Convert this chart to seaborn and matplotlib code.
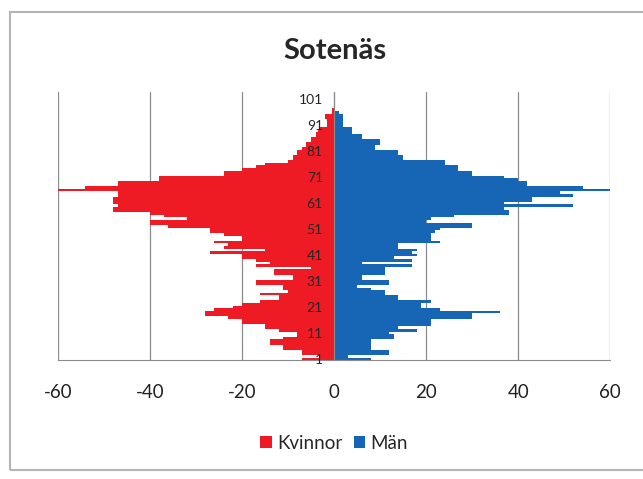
import numpy as np
import pandas as pd
import matplotlib.pyplot as plt
import seaborn as sns
from matplotlib.patches import Rectangle

# ages 1..101
ages = list(range(1, 102))
kvinnor = [7, 3, 7, 7, 11, 11, 14, 14, 11, 8,
           8, 12, 15, 15, 20, 20, 23, 28, 28, 26,
           22, 20, 16, 12, 12, 16, 10, 11, 11, 17,
           17, 9, 9, 13, 13, 5, 17, 14, 17, 20,
           20, 27, 15, 24, 23, 26, 20, 20, 24, 27,
           27, 36, 40, 40, 32, 37, 40, 48, 48, 47,
           48, 48, 48, 47, 47, 60, 54, 47, 47, 38,
           38, 24, 24, 20, 17, 15, 10, 9, 9, 8,
           8, 7, 6, 6, 5, 5, 4, 4, 3.5, 3,
           1.5, 1.5, 1.5, 2, 2, 0.5, 0.5, 0, 0, 0, 0]
man = [8, 3, 12, 12, 8, 8, 8, 8, 13, 13,
       12, 18, 14, 21, 21, 21, 30, 30, 36, 23,
       19, 19, 21, 14, 14, 11, 11, 8, 5, 12,
       12, 6, 6, 11, 11, 11, 17, 6, 17, 13,
       18, 17, 18, 14, 14, 23, 21, 21, 21, 22,
       23, 30, 30, 20, 21, 26, 38, 38, 37, 52,
       37, 43, 43, 52, 49, 60, 54, 42, 42, 40,
       37, 30, 30, 27, 27, 24, 24, 15, 15, 14,
       14, 9, 9, 10, 10, 6, 6, 4, 4, 4,
       2, 2, 2, 2, 2, 1, 0, 0, 0, 0, 0]
xticks = [-60, -40, -20, 0, 20, 40, 60]
yticks = list(range(1, 102, 10))

df = pd.DataFrame({
    "age": ages * 2,
    "value": [-v for v in kvinnor] + man,
    "kon": ["Kvinnor"] * len(ages) + ["Män"] * len(ages),
})

sns.set_style("white")
plt.rcParams["font.family"] = ["Lato", "DejaVu Sans"]

fig = plt.figure(figsize=(6.43, 4.79), dpi=100)
ax = fig.add_axes([0.090, 0.248, 0.859, 0.560])

for x in xticks:
    ax.axvline(x, color="#8c8c8c", lw=0.9, zorder=0)

sns.barplot(data=df, x="value", y="age", hue="kon", orient="h", native_scale=True,
            dodge=False, width=1.0, saturation=1,
            palette={"Kvinnor": "#ee1a24", "Män": "#1766b5"},
            linewidth=0, ax=ax)

ax.set_axisbelow(False)
ax.set_xlim(-60, 60)
ax.set_ylim(0.5, 103.8)
ax.set_xticks(xticks)
ax.set_xticklabels([str(t) for t in xticks], fontsize=13.5, color="#222222")
ax.set_yticks(yticks)
ax.set_yticklabels([str(t) for t in yticks], fontsize=12.5, color="#333333",
                   family=["Open Sans", "DejaVu Sans"])
ax.set_xlabel("")
ax.set_ylabel("")
for s in ["top", "right"]:
    ax.spines[s].set_visible(False)
ax.spines["left"].set_position(("data", 0))
ax.spines["left"].set_color("#8c8c8c")
ax.spines["bottom"].set_color("#8c8c8c")
ax.tick_params(axis="x", length=5, color="#8c8c8c", direction="out", pad=12)
ax.tick_params(axis="y", length=5, color="#8c8c8c", direction="out", pad=3)

ax.legend(loc="center", bbox_to_anchor=(0.52, 0.075), bbox_transform=fig.transFigure,
          ncol=2, frameon=False, fontsize=13.5, handlelength=0.6, handleheight=0.6,
          handletextpad=0.3, columnspacing=0.6)

fig.text(0.521, 0.893, "Sotenäs", ha="center", va="center", fontsize=21, fontweight="bold")
fig.patches.append(Rectangle((0.016, 0.019), 1.0, 0.956, transform=fig.transFigure,
                             fill=False, edgecolor="#b5b5b5", lw=1.5))

fig.savefig("out.png", dpi=100)
